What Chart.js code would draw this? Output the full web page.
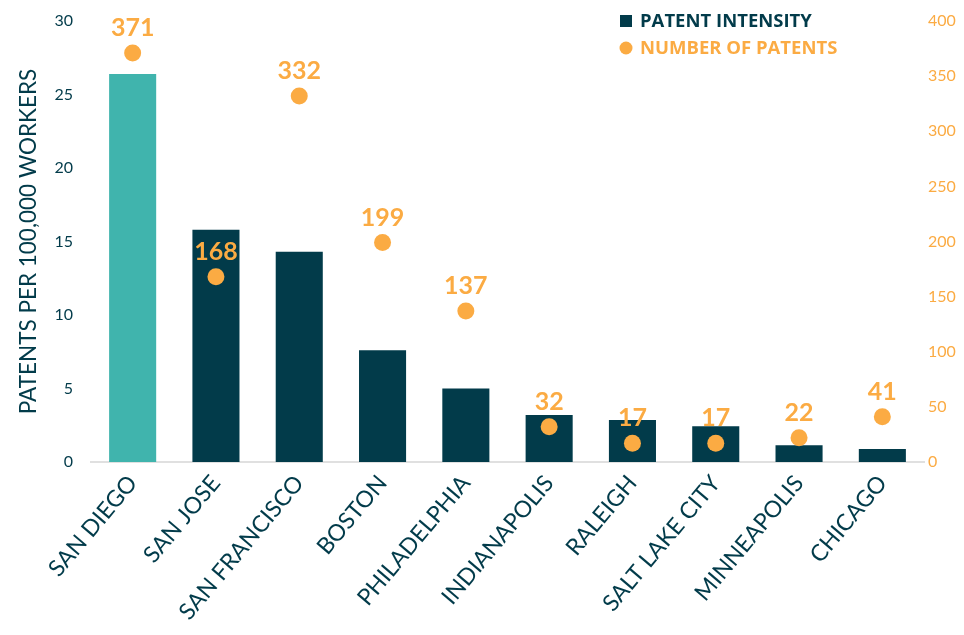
<!DOCTYPE html>
<html><head><meta charset="utf-8">
<script src="https://cdn.jsdelivr.net/npm/chart.js@4"></script>
<style>html,body{margin:0;padding:0;background:#fff}#w{width:964px;height:635px}</style>
</head><body><div id="w"><canvas id="c"></canvas></div>
<script>
const categories = ["SAN DIEGO","SAN JOSE","SAN FRANCISCO","BOSTON","PHILADELPHIA","INDIANAPOLIS","RALEIGH","SALT LAKE CITY","MINNEAPOLIS","CHICAGO"];
const patentIntensity = [26.4, 15.8, 14.3, 7.6, 5.0, 3.2, 2.86, 2.43, 1.14, 0.88];
const numberOfPatents = [371, 168, 332, 199, 137, 32, 17, 17, 22, 41];
const leftTicks = [0,5,10,15,20,25,30];
const rightTicks = [0,50,100,150,200,250,300,350,400];

const DARK = '#023b4a', TEAL = '#40b4ad', ORANGE = '#fbab43';
const FONT = 'Lato, "Open Sans", sans-serif';
const LFONT = '"Open Sans", Lato, sans-serif';

const labelPlugin = {
  id: 'labels',
  afterDatasetsDraw(chart) {
    const ctx = chart.ctx;
    const meta = chart.getDatasetMeta(1);
    ctx.save();
    ctx.fillStyle = ORANGE;
    ctx.font = 'bold 25px ' + FONT;
    ctx.textAlign = 'center';
    ctx.textBaseline = 'alphabetic';
    meta.data.forEach((pt, i) => {
      ctx.fillText(String(numberOfPatents[i]), pt.x, pt.y - 17);
    });
    // legend
    const lx = 620, ly1 = 21, ly2 = 48;
    ctx.fillStyle = DARK;
    ctx.fillRect(lx, ly1 - 6, 12, 12);
    ctx.font = 'bold 18.5px ' + LFONT;
    ctx.textAlign = 'left';
    ctx.textBaseline = 'middle';
    ctx.fillText('PATENT INTENSITY', lx + 20, ly1 + 1);
    ctx.fillStyle = ORANGE;
    ctx.beginPath(); ctx.arc(lx + 6, ly2, 6.5, 0, Math.PI * 2); ctx.fill();
    ctx.fillText('NUMBER OF PATENTS', lx + 20, ly2 + 1);
    ctx.restore();
  }
};

new Chart(document.getElementById('c'), {
  type: 'bar',
  data: {
    labels: categories,
    datasets: [
      { label: 'PATENT INTENSITY', data: patentIntensity, yAxisID: 'y',
        backgroundColor: patentIntensity.map((v, i) => i === 0 ? TEAL : DARK),
        categoryPercentage: 1, barPercentage: 0.565, order: 2 },
      { label: 'NUMBER OF PATENTS', type: 'line', data: numberOfPatents, yAxisID: 'y2',
        showLine: false, pointRadius: 8.5, pointHoverRadius: 8.5, pointBackgroundColor: ORANGE,
        pointBorderWidth: 0, borderColor: ORANGE, order: 1 }
    ]
  },
  options: {
    responsive: true, maintainAspectRatio: false, animation: false,
    layout: { padding: { top: 21, left: 0, right: 0, bottom: 0 } },
    plugins: { legend: { display: false }, tooltip: { enabled: false } },
    scales: {
      x: {
        grid: { display: false, drawTicks: false },
        border: { display: true, color: '#e0e0e0', width: 2 },
        ticks: { color: DARK, font: { family: FONT, size: 23 }, minRotation: 50, maxRotation: 50, autoSkip: false, padding: 8 },
        afterFit(s) { s.height = 173; s.paddingLeft = 0; s.paddingRight = 0; }
      },
      y: {
        position: 'left', min: 0, max: 30,
        afterBuildTicks(s) { s.ticks = leftTicks.map(v => ({ value: v })); },
        grid: { display: false, drawTicks: false },
        border: { display: false },
        ticks: { color: DARK, font: { family: FONT, size: 16 }, padding: 18 },
        title: { display: true, text: 'PATENTS PER 100,000 WORKERS', color: DARK, font: { family: FONT, size: 22.5 }, padding: { top: 15, bottom: 0 } },
        afterFit(s) { s.width = 91; s.paddingTop = 0; s.paddingBottom = 0; }
      },
      y2: {
        position: 'right', min: 0, max: 400,
        afterBuildTicks(s) { s.ticks = rightTicks.map(v => ({ value: v })); },
        grid: { display: false, drawTicks: false },
        border: { display: false },
        ticks: { color: ORANGE, font: { family: FONT, size: 16 }, padding: 4 },
        afterFit(s) { s.width = 40; s.paddingTop = 0; s.paddingBottom = 0; }
      }
    }
  },
  plugins: [labelPlugin]
});
</script></body></html>
